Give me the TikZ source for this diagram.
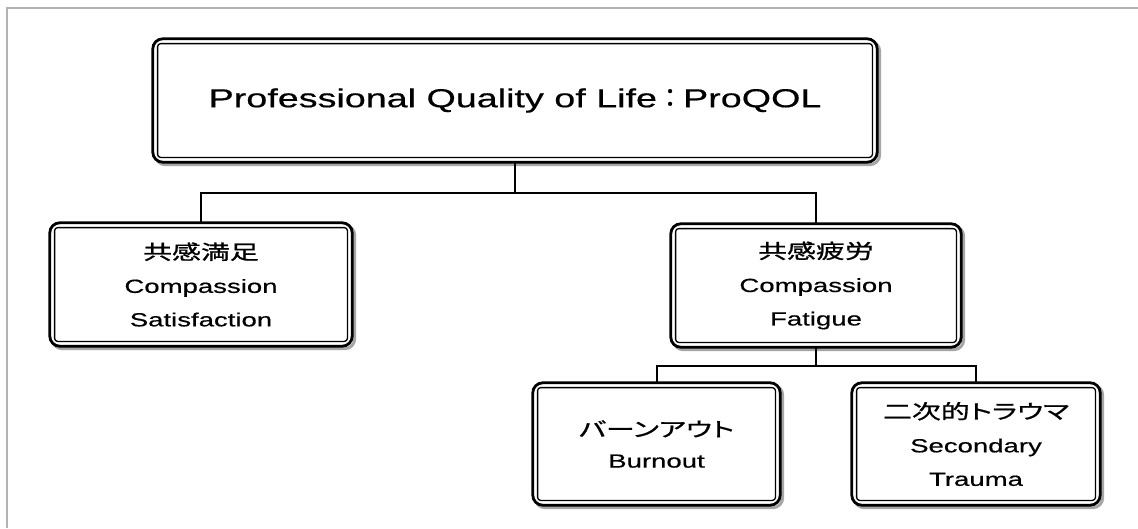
\documentclass[tikz,border=0pt]{standalone}
\usepackage{fontspec}
\setmainfont{Liberation Sans}[FakeStretch=1.45, FakeBold=0.5]
\newfontfamily\jp{Noto Sans CJK JP}[FakeStretch=1.45, FakeBold=1, Scale=1.05, RawFeature=+palt]
\newfontfamily\jpfull{Noto Sans CJK JP}[FakeBold=1]
\usetikzlibrary{calc,backgrounds}

% double frame: grey shadow, thick rounded outer line, thin inner line
\newcommand\dblframe[1]{%
  \draw[line width=3pt, black!35, rounded corners=10pt]
    ([shift={(2.5,2.5)}]#1.north west) rectangle ([shift={(2.5,2.5)}]#1.south east);
  \draw[line width=2.8pt, rounded corners=10pt, fill=white]
    (#1.north west) rectangle (#1.south east);
  \draw[line width=1.3pt, rounded corners=3pt]
    ([shift={(4.8,4.8)}]#1.north west) rectangle ([shift={(-4.8,-4.8)}]#1.south east);
}

\tikzset{
  box/.style={rectangle, inner sep=0pt, align=center,
    font=\fontsize{19}{33.5}\selectfont},
  conn/.style={line width=2pt, black},
  pageedge/.style={line width=2pt, black!30},
}

\begin{document}
\begin{tikzpicture}[x=1pt, y=-1pt]
\useasboundingbox (0,0) rectangle (1138,528);

% boxes
\node[box, minimum width=724pt, minimum height=123pt, font=\fontsize{26}{30}\selectfont]
  (top) at (515,100.5) {Professional Quality of Life{\jpfull ：}ProQOL};
\node[box, minimum width=302pt, minimum height=123pt]
  (cs) at (201,284.5) {{\jp 共感満足}\\ Compassion\\ Satisfaction};
\node[box, minimum width=290pt, minimum height=123pt]
  (cf) at (816,285.5) {{\jp 共感疲労}\\ Compassion\\ Fatigue};
\node[box, minimum width=247pt, minimum height=122pt, font=\fontsize{19}{31}\selectfont]
  (bo) at (656.5,444) {{\jp バーンアウト}\\ Burnout};
\node[box, minimum width=248pt, minimum height=122pt]
  (st) at (976,444) {{\jp 二次的トラウマ}\\ Secondary\\ Trauma};

\begin{scope}[on background layer]
  \fill[white] (0,0) rectangle (1138,528);
  % page edge lines (left and top)
  \draw[pageedge] (7,528) -- (7,7.5) -- (1138,7.5);
  \dblframe{top}
  \dblframe{cs}
  \dblframe{cf}
  \dblframe{bo}
  \dblframe{st}
\end{scope}

% connectors
\coordinate (busA) at (515,193);
\coordinate (busB) at (816,366);
\draw[conn] (top.south) -- (busA);
\draw[conn] (cs.north) |- (busA) -| (cf.north);
\draw[conn] (cf.south) -- (busB);
\draw[conn] (bo.north) |- (busB) -| (st.north);
\end{tikzpicture}
\end{document}
